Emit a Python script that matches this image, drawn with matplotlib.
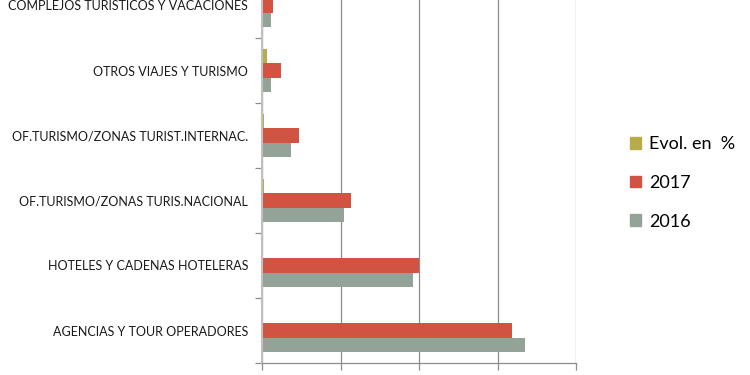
import matplotlib
matplotlib.use("Agg")
import matplotlib.pyplot as plt
import numpy as np
from matplotlib.patches import Patch

categories = ["AGENCIAS Y TOUR OPERADORES", "HOTELES Y CADENAS HOTELERAS",
              "OF.TURISMO/ZONAS TURIS.NACIONAL", "OF.TURISMO/ZONAS TURIST.INTERNAC.",
              "OTROS VIAJES Y TURISMO", "COMPLEJOS TURISTICOS Y VACACIONES"]
evol = [0.01, 0.015, 0.025, 0.02, 0.064, 0.03]
v2017 = [3.19, 2.00, 1.13, 0.47, 0.24, 0.14]
v2016 = [3.35, 1.92, 1.04, 0.37, 0.11, 0.11]
series_names = ["Evol. en  %", "2017", "2016"]
colors = ["#b8ab4a", "#d05441", "#94a398"]

plt.rcParams['font.family'] = ['Lato', 'DejaVu Sans']
fig = plt.figure(figsize=(7.5, 3.75), dpi=100)
ax = fig.add_axes([262/750, 12/375, 314/750, 390/375])

y = np.arange(len(categories))
h = 0.22
ax.barh(y + h, evol, h, color=colors[0])
ax.barh(y, v2017, h, color=colors[1])
ax.barh(y - h, v2016, h, color=colors[2])

ax.set_ylim(-0.5, len(categories) - 0.5)
ax.set_xlim(0, 4)
ax.set_xticks([0, 1, 2, 3, 4])
ax.set_xticklabels([])
ax.grid(axis='x', color='#8c8c8c', linewidth=0.9)
ax.set_axisbelow(True)
ax.tick_params(axis='x', length=5, color='#8c8c8c', width=0.9)
ax.set_yticks(y)
ax.set_yticklabels(categories, fontsize=9.0, color='#1a1a1a')
ax.tick_params(axis='y', which='major', length=0, pad=10)
ax.set_yticks(np.arange(-0.5, len(categories) - 0.4, 1), minor=True)
ax.tick_params(axis='y', which='minor', length=5, color='#8c8c8c', width=0.9)
for s in ['top', 'right']:
    ax.spines[s].set_visible(False)
ax.spines['left'].set_color('#c0c0c0')
ax.spines['left'].set_linewidth(1.5)
ax.spines['bottom'].set_color('#8c8c8c')
ax.spines['bottom'].set_linewidth(0.9)

handles = [Patch(color=c) for c in colors]
fig.legend(handles, series_names, loc='center left', bbox_to_anchor=(614/750, 1 - 183/375),
           frameon=False, fontsize=13, handlelength=0.6, handleheight=0.6,
           labelspacing=1.25, handletextpad=0.45)
fig.savefig("out.png", dpi=100)
